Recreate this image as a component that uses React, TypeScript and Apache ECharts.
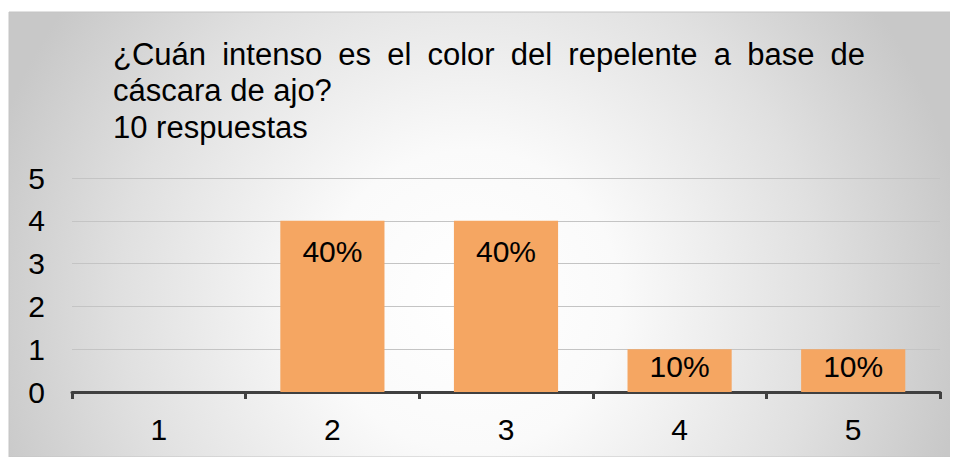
import React, { useEffect, useRef } from "react";
import * as echarts from "echarts";

const categories = ["1", "2", "3", "4", "5"];
const counts = [0, 4, 4, 1, 1];
const totalResponses = 10;
const titleLines = [
  "¿Cuán intenso es el color del repelente a base de",
  "cáscara de ajo?",
  "10 respuestas",
];
const yTicks = [0, 1, 2, 3, 4, 5];

const FONT = "'Liberation Sans', Arial, Helvetica, sans-serif";
const TITLE_SIZE = 31;

function buildTitle(): any[] {
  const left = 105;
  const justifyWidth = 752;
  const firstMid = 46;
  const lineGap = 36.5;
  const canvas = document.createElement("canvas");
  const ctx = canvas.getContext("2d") as CanvasRenderingContext2D;
  ctx.font = `${TITLE_SIZE}px ${FONT}`;
  const els: any[] = [];
  titleLines.forEach((line, i) => {
    const y = firstMid + i * lineGap;
    if (i === 0) {
      const words = line.split(" ");
      const widths = words.map((w) => ctx.measureText(w).width);
      const total = widths.reduce((a, b) => a + b, 0);
      const gap = (justifyWidth - total) / (words.length - 1);
      let x = left;
      words.forEach((w, k) => {
        els.push({
          type: "text",
          x,
          y,
          silent: true,
          style: {
            text: w,
            fontFamily: FONT,
            fontSize: TITLE_SIZE,
            fill: "#000000",
            align: "left",
            verticalAlign: "middle",
          },
        });
        x += widths[k] + gap;
      });
    } else {
      els.push({
        type: "text",
        x: left,
        y,
        silent: true,
        style: {
          text: line,
          fontFamily: FONT,
          fontSize: TITLE_SIZE,
          fill: "#000000",
          align: "left",
          verticalAlign: "middle",
        },
      });
    }
  });
  return els;
}

export default function App() {
  const ref = useRef<HTMLDivElement>(null);
  useEffect(() => {
    if (!ref.current) return;
    const chart = echarts.init(ref.current, undefined, { renderer: "svg" });
    const option = {
      animation: false,
      graphic: [
        {
          type: "rect",
          z: -10,
          silent: true,
          shape: { x: 1, y: 4, width: 949, height: 445 },
          style: {
            fill: new echarts.graphic.RadialGradient(
              462,
              292,
              500,
              [
                { offset: 0, color: "#ffffff" },
                { offset: 0.3, color: "#fafafa" },
                { offset: 0.7, color: "#e0e0e0" },
                { offset: 1, color: "#c8c8c8" },
              ],
              true
            ),
            stroke: "#c4c4c4",
            lineWidth: 1,
          },
        },
        ...buildTitle(),
      ],
      grid: { left: 64, right: 18, top: 170, bottom: 65, containLabel: false },
      xAxis: {
        type: "category",
        data: categories,
        boundaryGap: true,
        axisLine: { show: true, lineStyle: { color: "#404040", width: 3 } },
        axisTick: { show: true, length: 7, alignWithLabel: false, lineStyle: { color: "#404040", width: 3 } },
        axisLabel: { fontFamily: FONT, fontSize: 30, color: "#000000", margin: 22 },
        splitLine: { show: false },
      },
      yAxis: {
        type: "value",
        min: yTicks[0],
        max: yTicks[yTicks.length - 1],
        interval: 1,
        axisLine: { show: false },
        axisTick: { show: false },
        axisLabel: { fontFamily: FONT, fontSize: 30, color: "#000000", margin: 27 },
        splitLine: { show: true, lineStyle: { color: "#c4c4c4", width: 1 } },
      },
      series: [
        {
          type: "bar",
          barWidth: "60%",
          data: counts.map((v) => ({
            value: v,
            label: { show: v > 0, distance: v >= 4 ? 16 : 2 },
          })),
          itemStyle: { color: "#f5a662" },
          label: {
            show: true,
            position: "insideTop",
            fontFamily: FONT,
            fontSize: 30,
            color: "#000000",
            formatter: (p: any) => `${Math.round((p.value / totalResponses) * 100)}%`,
          },
        },
      ],
    };
    chart.setOption(option as any);
    return () => chart.dispose();
  }, []);
  return <div ref={ref} style={{ width: 950, height: 449 }} />;
}
